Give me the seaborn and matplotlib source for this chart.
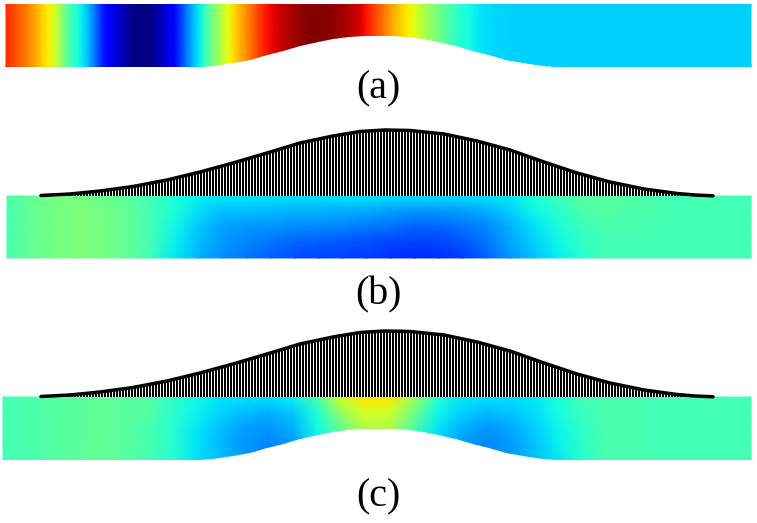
import matplotlib
matplotlib.use("Agg")
import matplotlib.pyplot as plt
import seaborn as sns
import numpy as np
from matplotlib.patches import Polygon
from matplotlib.transforms import Affine2D

# Field along the channel in panel (a), one value every 6 px
field_a = [.86, .84, .81, .79, .76, .73, .69, .66, .61, .54, .47, .42, .38, .34, .29, .23,
           .16, .115, .09, .06, .04, .015, 0.0, 0.0, .01, .03, .06, .09, .125, .18, .24, .30,
           .35, .41, .47, .52, .58, .63, .68, .72, .76, .80, .84, .875, .90, .92, .94, .955,
           .97, .98, .99, .995, 1.0, .995, .99, .98, .97, .955, .94, .92, .89, .85, .82, .78,
           .74, .71, .68, .655, .62, .585, .55, .52, .49, .46, .435, .41, .39, .375, .36, .35,
           .34, .338, .335, .333, .33] + [.33] * 40

# Panel (b), five levels from top to bottom
field_b = [
    [.44, .47, .49, .49, .48, .46, .43, .385, .36, .35, .35, .35, .345, .345, .35, .35,
     .345, .34, .34, .34, .345, .355, .39, .43, .46, .46, .45, .44, .43, .43, .43, .43],
    [.44, .47, .49, .50, .49, .47, .43, .385, .34, .315, .31, .305, .30, .30, .295, .29,
     .28, .27, .27, .28, .295, .33, .37, .40, .44, .45, .44, .44, .43, .43, .43, .43],
    [.44, .47, .49, .50, .49, .47, .43, .37, .32, .285, .275, .27, .265, .26, .255, .245,
     .235, .22, .225, .24, .26, .30, .345, .385, .42, .44, .44, .43, .43, .43, .43, .43],
    [.44, .47, .49, .50, .49, .47, .43, .36, .31, .275, .255, .24, .225, .215, .21, .20,
     .195, .19, .195, .21, .24, .29, .33, .37, .41, .43, .43, .43, .43, .43, .43, .43],
    [.44, .47, .49, .50, .49, .47, .42, .355, .30, .265, .24, .22, .20, .195, .19, .185,
     .175, .165, .17, .185, .225, .27, .32, .36, .40, .43, .43, .43, .43, .43, .43, .43],
]

# Panel (c), same layout
field_c = [
    [.43, .44, .45, .46, .47, .46, .45, .41, .37, .35, .345, .345, .36, .44, .60, .67,
     .665, .55, .40, .355, .345, .345, .355, .38, .43, .44, .44, .43, .43, .43, .43, .43],
    [.43, .44, .45, .46, .47, .46, .45, .405, .365, .335, .31, .30, .32, .39, .53, .61,
     .60, .49, .37, .33, .31, .32, .34, .375, .42, .44, .44, .43, .43, .43, .43, .43],
    [.43, .44, .45, .46, .47, .46, .44, .40, .355, .315, .28, .27, .30, .37, .47, .56,
     .56, .45, .35, .30, .27, .29, .325, .365, .41, .44, .44, .43, .43, .43, .43, .43],
    [.43, .44, .45, .46, .47, .46, .44, .40, .35, .305, .27, .255, .27, .36, .47, .55,
     .55, .45, .34, .28, .26, .275, .315, .36, .405, .44, .44, .43, .43, .43, .43, .43],
    [.43, .44, .45, .46, .47, .46, .43, .395, .35, .31, .28, .26, .27, .35, .47, .55,
     .55, .45, .34, .29, .27, .28, .31, .355, .40, .44, .44, .43, .43, .43, .43, .43],
]

# Lower wall of the channel (panel a height, panel c is shifted down)
wall_x = [0, 183, 200, 213, 233, 250, 267, 283, 300, 318, 333, 348, 363, 378, 393, 408, 423,
          438, 456, 473, 489, 506, 523, 543, 556, 573, 757]
wall_y = [67, 67, 66.6, 65.6, 63.1, 59.6, 55.4, 50.8, 46.3, 42, 39.2, 37.3, 36.1, 35.6, 36.1,
          37.3, 39.2, 42, 46.3, 50.8, 55.4, 59.6, 63.1, 65.6, 66.6, 67, 67]

# Membrane shape (panel b height)
membrane_x = [41, 70, 100, 133, 167, 200, 233, 267, 300, 333, 360, 385, 410, 444, 477,
              510, 544, 577, 610, 644, 677, 695, 713]
membrane_y = [195.5, 194, 191, 186.5, 180, 172, 163, 153, 143, 136, 131.5, 130, 130.5, 134,
              141, 150, 162, 173, 182, 189, 193.5, 195, 195.8]

labels = ["(a)", "(b)", "(c)"]

plt.rcParams["hatch.linewidth"] = 1.0
sns.set_style("white")
plt.rcParams["font.family"] = ["Liberation Serif", "DejaVu Sans"]

fig = plt.figure(figsize=(757 / 72, 523 / 72), dpi=72)
ax = fig.add_axes([0, 0, 1, 1])


def draw_field(values, left, right, top, bottom, clip_shift=None):
    data = np.array(values)
    sns.heatmap(data, cmap="jet", vmin=0, vmax=1, cbar=False, xticklabels=False,
                yticklabels=False, shading="gouraud", ax=ax)
    mesh = ax.collections[-1]
    nrows, ncols = data.shape
    place = Affine2D().scale((right - left) / (ncols - 1), (bottom - top) / (nrows - 1))
    mesh.set_transform(place.translate(left, top) + ax.transData)
    if clip_shift is not None:
        outline = [(0, 0), (757, 0)] + [(x, y + clip_shift) for x, y in zip(wall_x[::-1], wall_y[::-1])]
        mesh.set_clip_path(Polygon(outline, transform=ax.transData))


def draw_membrane(shift):
    y = [v + shift for v in membrane_y]
    # black fill with white hatch gives the 2 px black / 1 px white springs
    ax.fill_between(membrane_x, y, 196 + shift, facecolor="black", edgecolor="white",
                    hatch="||||", linewidth=0)
    sns.lineplot(x=membrane_x, y=y, color="black", linewidth=3.5, estimator=None, sort=False, ax=ax)


draw_field([field_a, field_a], 6, 751, 4.5, 67, clip_shift=0)
draw_field(field_b, 7, 751, 196, 258)
draw_field(field_c, 3, 751, 397, 460, clip_shift=393)
draw_membrane(0)
draw_membrane(201)

for label, y in zip(labels, [89, 295, 497]):
    ax.text(378, y, label, fontsize=40, ha="center", va="center", color="black")

ax.set_xlim(0, 757)
ax.set_ylim(523, 0)
ax.axis("off")
fig.savefig("out.png", dpi=72)
